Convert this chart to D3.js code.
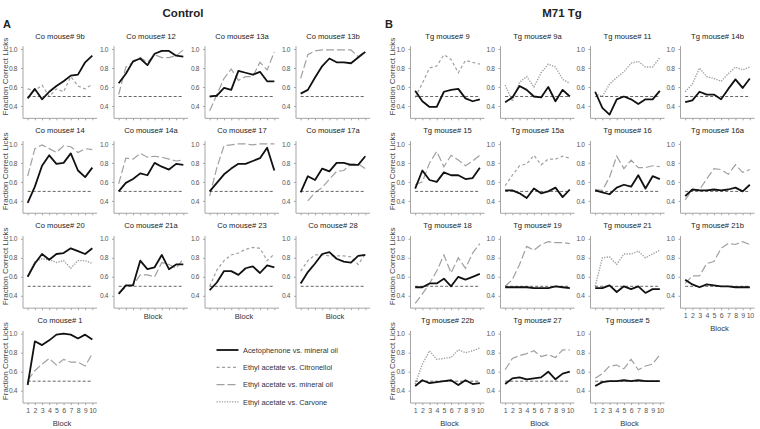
<!DOCTYPE html>
<html><head><meta charset="utf-8">
<script src="https://cdn.jsdelivr.net/npm/d3@7"></script>
<style>body{margin:0;background:#fff}svg{display:block}text{font-family:"Liberation Sans",Arial,sans-serif}</style>
</head><body><svg id="c" width="760" height="429"></svg>
<script>
const blocks = [1,2,3,4,5,6,7,8,9,10];
const yTicks = [0.4,0.6,0.8,1.0];
const chance = 0.5;

const controlMice = ["Co mouse# 9b","Co mouse# 12","Co mouse# 13a","Co mouse# 13b",
  "Co mouse# 14","Co mouse# 14a","Co mouse# 17","Co mouse# 17a",
  "Co mouse# 20","Co mouse# 21a","Co mouse# 23","Co mouse# 28","Co mouse# 1"];
const controlAceto = [
  [0.48,0.58,0.47,0.55,0.61,0.66,0.72,0.73,0.86,0.93],
  [0.64,0.74,0.87,0.90,0.83,0.95,0.98,0.98,0.93,0.92],
  [0.50,0.51,0.59,0.57,0.77,0.75,0.73,0.76,0.66,0.66],
  [0.53,0.57,0.70,0.82,0.90,0.86,0.86,0.85,0.91,0.97],
  [0.38,0.55,0.77,0.88,0.79,0.80,0.90,0.72,0.65,0.75],
  [0.50,0.59,0.63,0.69,0.67,0.80,0.76,0.73,0.79,0.78],
  [0.50,0.59,0.68,0.74,0.79,0.79,0.82,0.85,0.96,0.72],
  [0.49,0.66,0.62,0.74,0.71,0.80,0.80,0.78,0.78,0.87],
  [0.60,0.74,0.84,0.78,0.84,0.85,0.90,0.87,0.84,0.90],
  [0.42,0.51,0.51,0.77,0.68,0.70,0.83,0.68,0.73,0.73],
  [0.46,0.54,0.66,0.66,0.62,0.69,0.71,0.64,0.72,0.70],
  [0.53,0.65,0.74,0.84,0.86,0.79,0.76,0.75,0.82,0.83],
  [0.46,0.92,0.88,0.93,0.99,1.00,0.99,0.95,0.99,0.94]
];
const controlOther = [
  [0.58,0.56,0.62,0.50,0.58,0.55,0.71,0.61,0.58,0.63],
  [0.52,0.81,0.86,0.91,0.86,0.94,0.91,0.91,0.93,0.99],
  [0.35,0.52,0.69,0.79,0.67,0.71,0.71,0.86,0.78,0.97],
  [0.69,0.94,0.98,0.99,0.99,0.99,0.99,0.99,0.92,0.98],
  [0.66,0.95,0.99,0.95,0.91,0.98,0.97,0.91,0.95,0.94],
  [0.58,0.85,0.84,0.90,0.86,0.87,0.86,0.84,0.82,0.83],
  [0.45,0.75,0.98,0.99,1.00,1.00,0.99,1.00,1.00,1.00],
  [null,0.40,0.49,0.54,0.63,0.71,0.72,0.79,0.79,0.74],
  [0.60,0.76,0.79,0.78,0.75,0.77,0.69,0.77,0.77,0.74],
  [0.43,0.49,0.51,0.62,0.62,0.60,0.75,0.73,0.69,0.79],
  [0.50,0.67,0.77,0.83,0.85,0.89,0.91,0.90,0.77,0.84],
  [0.66,0.77,0.83,0.83,0.82,0.82,0.82,0.81,0.73,0.84],
  [0.51,0.61,0.68,0.74,0.67,0.73,0.70,0.70,0.66,0.79]
];
const controlOtherOdor = ["cit","min","min","min","min","min","min","min","car","min","cit","cit","min"];

const tgMice = ["Tg mouse# 9","Tg mouse# 9a","Tg mouse# 11","Tg mouse# 14b",
  "Tg mouse# 15","Tg mouse# 15a","Tg mouse# 16","Tg mouse# 16a",
  "Tg mouse# 18","Tg mouse# 19","Tg mouse# 21","Tg mouse# 21b",
  "Tg mouse# 22b","Tg mouse# 27","Tg mouse# 5"];
const tgAceto = [
  [0.56,0.45,0.39,0.39,0.55,0.57,0.58,0.48,0.45,0.47],
  [0.44,0.49,0.61,0.57,0.50,0.49,0.60,0.45,0.57,0.50],
  [0.55,0.38,0.31,0.47,0.50,0.47,0.42,0.47,0.47,0.56],
  [0.44,0.46,0.55,0.52,0.52,0.47,0.58,0.68,0.59,0.69],
  [0.53,0.72,0.62,0.60,0.70,0.67,0.67,0.63,0.64,0.75],
  [0.51,0.51,0.48,0.43,0.53,0.48,0.50,0.54,0.44,0.52],
  [0.51,0.49,0.47,0.54,0.57,0.55,0.67,0.53,0.66,0.63],
  [0.45,0.52,0.51,0.51,0.52,0.51,0.52,0.54,0.50,0.57],
  [0.49,0.49,0.53,0.53,0.58,0.50,0.60,0.57,0.60,0.63],
  [0.49,0.49,0.49,0.49,0.48,0.48,0.48,0.50,0.49,0.48],
  [0.48,0.48,0.51,0.44,0.50,0.47,0.50,0.43,0.47,0.47],
  [0.57,0.52,0.49,0.52,0.51,0.50,0.50,0.49,0.49,0.49],
  [0.45,0.51,0.48,0.49,0.50,0.51,0.46,0.51,0.47,0.48],
  [0.47,0.53,0.54,0.52,0.53,0.54,0.60,0.52,0.58,0.60],
  [0.45,0.49,0.50,0.50,0.51,0.50,0.51,0.50,0.50,0.50]
];
const tgOther = [
  [0.49,0.64,0.80,0.82,0.94,0.89,0.75,0.88,0.86,0.84],
  [0.62,0.45,0.65,0.71,0.60,0.75,0.84,0.81,0.68,0.64],
  [0.53,0.50,0.63,0.70,0.76,0.85,0.87,0.81,0.81,0.91],
  [0.55,0.63,0.80,0.71,0.69,0.66,0.74,0.81,0.78,0.81],
  [0.57,0.60,0.80,0.92,0.76,0.88,0.83,0.77,0.82,0.88],
  [0.56,0.67,0.77,0.79,0.88,0.78,0.84,0.84,0.87,0.85],
  [0.52,0.51,0.65,0.87,0.74,0.83,0.75,0.75,0.77,0.76],
  [0.41,0.52,0.52,0.63,0.74,0.73,0.68,0.78,0.70,0.73],
  [0.32,0.42,0.53,0.66,0.83,0.64,0.80,0.69,0.85,0.95],
  [0.50,0.57,0.73,0.92,0.88,0.94,0.97,0.96,0.96,0.95],
  [0.50,0.80,0.81,0.73,0.84,0.84,0.87,0.80,0.84,0.88],
  [0.53,0.61,0.61,0.74,0.76,0.90,0.95,0.94,0.97,0.94],
  [0.47,0.68,0.82,0.73,0.74,0.75,0.83,0.80,0.82,0.85],
  [0.62,0.74,0.77,0.79,0.82,0.76,0.78,0.75,0.83,0.83],
  [0.53,0.58,0.66,0.67,0.63,0.73,0.62,0.66,0.68,0.78]
];
const tgOtherOdor = ["cit","car","car","car","min","cit","min","min","min","min","car","min","car","min","min"];

const legendLabels = ["Acetophenone vs. mineral oil","Ethyl acetate vs. Citronellol","Ethyl acetate vs. mineral oil","Ethyl acetate vs. Carvone"];
const legendKeys = ["ace","cit","min","car"];

const styles = {
  ace:{stroke:"#111",width:1.8,dash:null},
  cit:{stroke:"#a0a0a0",width:1.2,dash:"3,2.5"},
  min:{stroke:"#a0a0a0",width:1.2,dash:"8,3"},
  car:{stroke:"#a0a0a0",width:1.4,dash:"1.3,1.3"}
};

const svg = d3.select("#c");
const PW = 74, ROW0 = 49, ROWH = 94.9;
const axisCol = "#a5a5a5", txtCol = "#555";
const FONT = "Liberation Sans, Arial, sans-serif";

function panel(x0, row, title, aceto, other, odor, opts) {
  const y1 = ROW0 + ROWH*row;
  const x = d3.scaleLinear().domain([0.35,10.65]).range([x0, x0+PW]);
  const y = d3.scaleLinear().domain([0.27,1.03]).range([y1+0.73*95, y1-0.03*95]);
  const g = svg.append("g");
  g.append("text").attr("x", x0+PW/2).attr("y", y1-10.5).attr("text-anchor","middle")
    .attr("font-size",7.6).attr("fill","#222").text(title);
  // y axis
  const ya = d3.axisLeft(y).tickValues(yTicks).tickFormat(d3.format(".1f")).tickSize(2).tickPadding(4);
  const yg = g.append("g").attr("transform",`translate(${x0},0)`).call(ya);
  yg.select(".domain").attr("stroke",axisCol).attr("d",`M-0,${y(1.03)}V${y(0.27)}`);
  yg.selectAll(".tick line").attr("stroke",axisCol);
  yg.selectAll("text").attr("font-size",6.6).attr("fill",txtCol).attr("font-family",FONT).attr("letter-spacing",-0.4);
  // x axis
  const xa = d3.axisBottom(x).tickValues(blocks).tickSize(2).tickPadding(3)
    .tickFormat(opts.xlabels ? d3.format("d") : "");
  const xg = g.append("g").attr("transform",`translate(0,${y(0.27)})`).call(xa);
  xg.select(".domain").attr("stroke",axisCol).attr("d",`M${x0},0H${x0+PW}`);
  xg.selectAll(".tick line").attr("stroke",axisCol);
  xg.selectAll("text").attr("font-size",7).attr("fill",txtCol).attr("font-family",FONT).attr("letter-spacing",-0.3);
  if (opts.block) {
    g.append("text").attr("x", x0+PW/2+2).attr("y", y(0.27) + (opts.xlabels ? 23 : 10.5))
      .attr("text-anchor","middle").attr("font-size",7.6).attr("fill","#333").text("Block");
  }
  if (opts.ylabel) {
    g.append("text").attr("transform",`translate(${x0-15.5},${y(0.71)}) rotate(-90)`)
      .attr("text-anchor","middle").attr("font-size",8).attr("fill","#444").text("Fraction Correct Licks");
  }
  const line = d3.line().defined(d=>d[1]!=null).x(d=>x(d[0])).y(d=>y(d[1]));
  const st = styles[odor];
  g.append("path").datum(blocks.map((b,i)=>[b,other[i]])).attr("d",line).attr("fill","none")
    .attr("stroke",st.stroke).attr("stroke-width",st.width).attr("stroke-dasharray",st.dash);
  g.append("line").attr("x1",x(1)).attr("x2",x(10)).attr("y1",y(chance)).attr("y2",y(chance))
    .attr("stroke","#555").attr("stroke-width",0.9).attr("stroke-dasharray","3,2");
  const sa = styles.ace;
  g.append("path").datum(blocks.map((b,i)=>[b,aceto[i]])).attr("d",line).attr("fill","none")
    .attr("stroke",sa.stroke).attr("stroke-width",sa.width).attr("stroke-linejoin","round");
}

const colA = [23,114,205,296];
const colB = [410.5,500.5,590.5,680.5];

controlMice.forEach((t,i)=>{
  const r = Math.floor(i/4), c = i%4;
  panel(colA[c], r, t, controlAceto[i], controlOther[i], controlOtherOdor[i], {
    ylabel: c===0,
    xlabels: r===3,
    block: r===3 || (r===2 && c>0)
  });
});
tgMice.forEach((t,i)=>{
  const r = Math.floor(i/4), c = i%4;
  panel(colB[c], r, t, tgAceto[i], tgOther[i], tgOtherOdor[i], {
    ylabel: c===0,
    xlabels: r===3 || (r===2 && c===3),
    block: r===3 || (r===2 && c===3)
  });
});

// headings
svg.append("text").attr("x",183).attr("y",16.5).attr("text-anchor","middle").attr("font-size",11.5).attr("font-weight","bold").attr("fill","#222").text("Control");
svg.append("text").attr("x",562).attr("y",16.5).attr("text-anchor","middle").attr("font-size",11.5).attr("font-weight","bold").attr("fill","#222").text("M71 Tg");
svg.append("text").attr("x",3).attr("y",27.5).attr("font-size",11).attr("font-weight","bold").attr("fill","#222").text("A");
svg.append("text").attr("x",385).attr("y",27.5).attr("font-size",11).attr("font-weight","bold").attr("fill","#222").text("B");

// legend
const lg = svg.append("g");
legendLabels.forEach((lab,i)=>{
  const yy = 350 + 17.3*i;
  const st = styles[legendKeys[i]];
  lg.append("line").attr("x1",216.5).attr("x2",238.5).attr("y1",yy).attr("y2",yy)
    .attr("stroke",st.stroke).attr("stroke-width",st.width).attr("stroke-dasharray",st.dash);
  lg.append("text").attr("x",243).attr("y",yy+2.7).attr("font-size",7.4).attr("fill","#333").text(lab);
});
</script></body></html>
